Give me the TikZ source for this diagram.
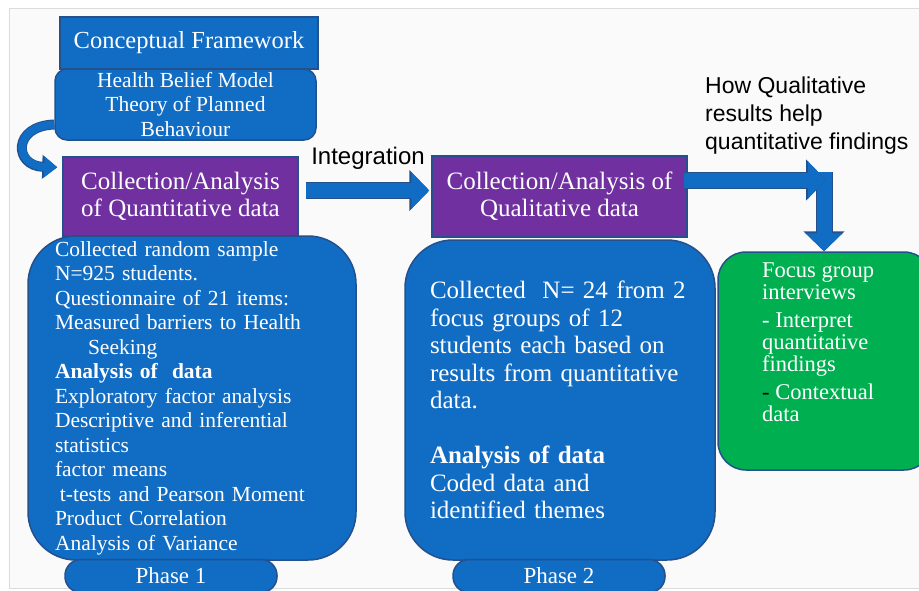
\documentclass[tikz,border=0pt]{standalone}
\usepackage{fontspec}
\setmainfont{Liberation Serif}
\newfontfamily\labelfont{Liberation Sans}
\usetikzlibrary{arrows.meta,positioning}
\definecolor{boxblue}{RGB}{17,108,196}
\definecolor{edgeblue}{RGB}{36,80,140}
\definecolor{boxpurple}{RGB}{112,48,160}
\definecolor{boxgreen}{RGB}{0,176,80}
\tikzset{>=latex}
\tikzstyle{title} = [rectangle, fill=boxblue, draw=edgeblue, line width=1.5pt, text=white, text centered, inner sep=0pt]
\tikzstyle{theory} = [rectangle, rounded corners=12pt, fill=boxblue, draw=edgeblue, line width=1.5pt, text=white, align=center, inner sep=0pt]
\tikzstyle{stage} = [rectangle, fill=boxpurple, draw=edgeblue, line width=1.5pt, text=white, align=center, inner sep=0pt]
\tikzstyle{detail} = [rectangle, rounded corners=48pt, fill=boxblue, draw=edgeblue, line width=1.5pt, text=white, align=left, inner sep=0pt]
\tikzstyle{phase} = [rectangle, rounded corners=16pt, fill=boxblue, draw=edgeblue, line width=1.5pt, text=white, minimum width=212pt, minimum height=33pt, inner sep=0pt, font=\fontsize{23}{24}\selectfont]
\tikzstyle{findings} = [rectangle, rounded corners=28pt, fill=boxgreen, draw=edgeblue, line width=1.5pt]
\tikzstyle{bigarrow} = [boxblue, line width=15pt, -{Triangle[length=18pt,width=36pt]}, preaction={draw=edgeblue, line width=17pt, -{Triangle[length=20pt,width=40pt]}}]
\tikzstyle{bendarrow} = [boxblue, line width=8pt, -{Triangle[length=13pt,width=20pt]}, preaction={draw=edgeblue, line width=10pt, -{Triangle[length=15pt,width=23pt]}}]

\begin{document}
\begin{tikzpicture}[x=1pt, y=-1pt]

\useasboundingbox (0,0) rectangle (919,590);
\fill[black!2, draw=black!14] (9,8) rectangle (935,588);

\node (frame) [title, minimum width=258pt, minimum height=52pt, font=\fontsize{24.5}{27}\selectfont] at (189,43) {Conceptual Framework};

\node (hbm) [theory, minimum width=261pt, minimum height=71pt, font=\fontsize{21.5}{24.5}\selectfont] at (185.5,104.5) {Health Belief Model\\Theory of Planned\\Behaviour};

\node (quant) [stage, minimum width=235pt, minimum height=79pt, font=\fontsize{25}{27}\selectfont] at (180.5,196.5) {Collection/Analysis\\of Quantitative data};

\node (quantbox) [detail, minimum width=328pt, minimum height=324pt, text width=274pt, font=\fontsize{21.5}{24.5}\selectfont] at (192,398) {Collected random sample\\
N=925 students.\\
Questionnaire of 21 items:\\
Measured barriers to Health\\
\hspace*{33pt}Seeking\\
\textbf{Analysis of\ \ data}\\
Exploratory factor analysis\\
Descriptive and inferential\\
statistics\\
factor means\\
\hspace*{5pt}t-tests and Pearson Moment\\
Product Correlation\\
Analysis of Variance};

\node (phase1) [phase] at (171,576) {Phase 1};

\node (qual) [stage, minimum width=255pt, minimum height=81pt, font=\fontsize{25}{27}\selectfont] at (559.5,196.5) {Collection/Analysis of\\Qualitative data};

\node (qualbox) [detail, minimum width=310pt, minimum height=320pt, text width=260pt, font=\fontsize{25}{27.5}\selectfont] at (560,400) {Collected\ \ N= 24 from 2\\
focus groups of 12\\
students each based on\\
results from quantitative\\
data.\\[27.5pt]
\textbf{Analysis of data}\\
Coded data and\\
identified themes};

\node (phase2) [phase] at (559,576) {Phase 2};

\node (focus) [findings, minimum width=214pt, minimum height=218pt] at (825,361) {};
\node (focustxt) [anchor=north west, inner sep=0pt, align=left, text=white, font=\fontsize{22.5}{22}\selectfont] at (762,263) {Focus group\\
interviews\\[6pt]
- Interpret\\
quantitative\\
findings\\[6pt]
{\color{black}-} Contextual\\
data};

\node (integ) [font=\labelfont\fontsize{24}{28}\selectfont, inner sep=0pt] at (368,158) {Integration};
\node (howlbl) [anchor=north west, align=left, inner sep=0pt, font=\labelfont\fontsize{23}{28}\selectfont] at (705,77) {How Qualitative\\results help\\quantitative findings};

\coordinate (turn) at (824,172);
\coordinate (elbow) at (826,180);

\draw [bendarrow] ([yshift=-20pt]hbm.west) .. controls (12,126) and (14,166) .. ([xshift=-5pt,yshift=-11pt]quant.north west);
\draw [bigarrow] ([xshift=7pt,yshift=6pt]quant.east) -- ([xshift=-2pt,yshift=6pt]qual.west);
\draw [bigarrow] (turn) -- (turn |- focus.north);
\draw [bigarrow] ([xshift=-4pt]qual.east |- elbow) -- (elbow);

\end{tikzpicture}
\end{document}
